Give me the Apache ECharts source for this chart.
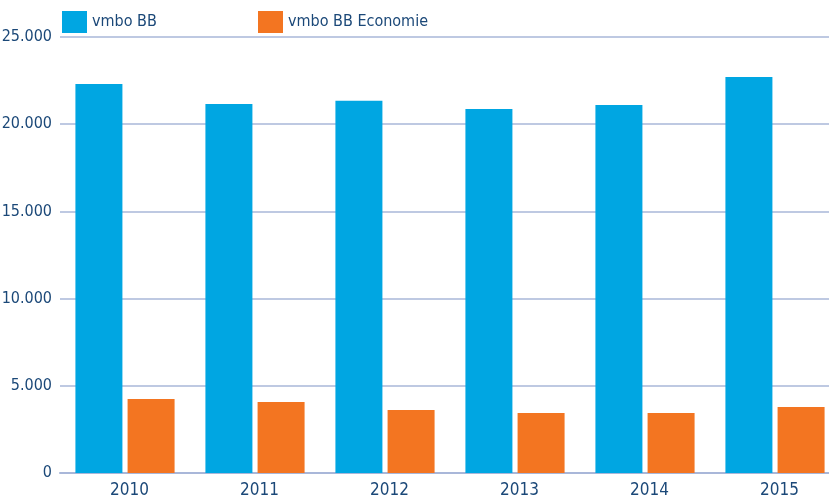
<!DOCTYPE html>
<html>
<head>
<meta charset="utf-8">
<script src="https://cdn.jsdelivr.net/npm/echarts@6/dist/echarts.min.js"></script>
<style>
  html, body { margin: 0; padding: 0; background: #fff; }
  #chart { width: 829px; height: 502px; }
</style>
</head>
<body>
<div id="chart"></div>
<script>
// Data
const years = ["2010", "2011", "2012", "2013", "2014", "2015"];
const vmboBB = [22300, 21160, 21350, 20870, 21100, 22700];
const vmboBBEconomie = [4240, 4070, 3610, 3440, 3440, 3780];
const yTicks = [0, 5000, 10000, 15000, 20000, 25000];

const font = '"Liberation Sans Narrow", "DejaVu Sans Condensed", "Roboto", sans-serif';
const textColor = "#1b4878";
const gridColor = "#a9b7d9";

// Thousands with a dot, as in the original
function formatTick(value) {
  return String(value).replace(/\B(?=(\d{3})+(?!\d))/g, ".");
}

const chart = echarts.init(document.getElementById("chart"));

const legendText = { color: textColor, fontFamily: font, fontSize: 16, padding: [0, 0, 4, 0] };

const option = {
  animation: false,
  legend: [
    {
      data: ["vmbo BB"],
      left: 57,
      top: 6,
      itemWidth: 25,
      itemHeight: 22,
      icon: "rect",
      textStyle: legendText,
    },
    {
      data: ["vmbo BB Economie"],
      left: 253,
      top: 6,
      itemWidth: 25,
      itemHeight: 22,
      icon: "rect",
      textStyle: legendText,
    },
  ],
  grid: { left: 60, top: 37, width: 780, height: 436, outerBoundsMode: "none" },
  xAxis: {
    type: "category",
    data: years,
    axisLine: { lineStyle: { color: gridColor, width: 2 } },
    axisTick: { show: false },
    axisLabel: {
      color: textColor,
      fontFamily: font,
      fontSize: 17,
      margin: 9,
      padding: [0, 0, 0, 9],
    },
  },
  yAxis: {
    type: "value",
    min: yTicks[0],
    max: yTicks[yTicks.length - 1],
    interval: 5000,
    axisLine: { show: false },
    axisTick: { show: false },
    splitLine: { lineStyle: { color: gridColor, width: 1.5 } },
    axisLabel: {
      color: textColor,
      fontFamily: font,
      fontSize: 16,
      margin: 8,
      formatter: formatTick,
    },
  },
  series: [
    {
      name: "vmbo BB",
      type: "bar",
      data: vmboBB,
      barWidth: 47,
      barGap: "11%",
      itemStyle: { color: "#00a6e2" },
    },
    {
      name: "vmbo BB Economie",
      type: "bar",
      data: vmboBBEconomie,
      barWidth: 47,
      itemStyle: { color: "#f37521" },
    },
  ],
};

chart.setOption(option);
</script>
</body>
</html>
